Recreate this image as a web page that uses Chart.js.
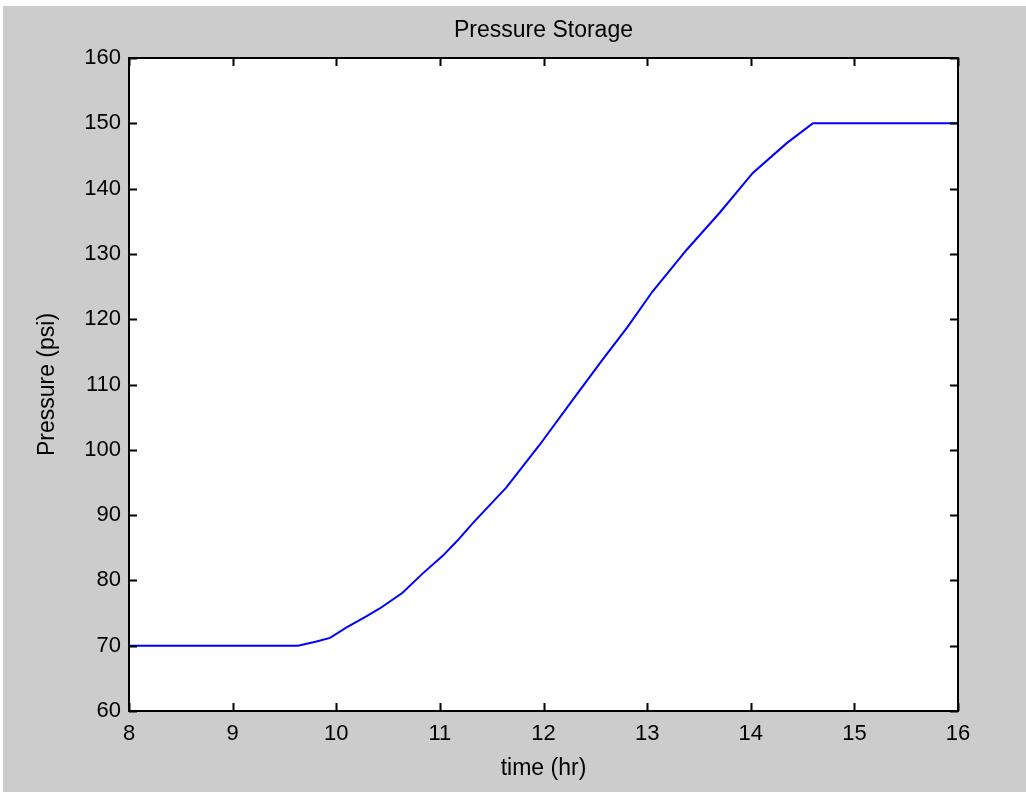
<!DOCTYPE html>
<html>
<head>
<meta charset="utf-8">
<title>Pressure Storage</title>
<script src="https://cdn.jsdelivr.net/npm/chart.js@4.4.1/dist/chart.umd.min.js"></script>
<style>
    html, body { margin: 0; padding: 0; background: #ffffff; }
    #figure {
        position: absolute;
        left: 3px;
        top: 6px;
        width: 1023px;
        height: 786px;
        background: #cccccc;
    }
</style>
</head>
<body>
<div id="figure"><canvas id="chartPressure"></canvas></div>
<script>
// Valores (tiempo en horas, presión en psi)
const timeHr = [8, 9.63, 9.8, 9.94, 10.1, 10.29, 10.42, 10.64, 10.83, 11.03, 11.17, 11.32,
    11.64, 11.96, 12.28, 12.57, 12.81, 13.05, 13.38, 13.7, 14.02, 14.35, 14.5, 14.6, 16];
const pressurePsi = [70, 70, 70.6, 71.2, 72.8, 74.5, 75.7, 78.1, 81.0, 83.8, 86.1, 88.8,
    94.2, 100.7, 107.6, 113.8, 118.8, 124.2, 130.6, 136.3, 142.4, 147.0, 148.8, 150, 150];

const xTicks = [8, 9, 10, 11, 12, 13, 14, 15, 16];
const yTicks = [60, 70, 80, 90, 100, 110, 120, 130, 140, 150, 160];

const chartTitle = "Pressure Storage";
const xLabel = "time (hr)";
const yLabel = "Pressure (psi)";

const FONT = "Arial, 'Liberation Sans', sans-serif";

// fondo blanco del área + caja estilo matlab con ticks hacia dentro
// el título va centrado sobre el área de datos (como en matlab), no sobre el canvas
const matlabBox = {
    id: "matlabBox",
    beforeDatasetsDraw(chart) {
        const { ctx, chartArea: a } = chart;
        ctx.save();
        ctx.fillStyle = "#ffffff";
        ctx.fillRect(a.left, a.top, a.right - a.left, a.bottom - a.top);
        ctx.restore();
    },
    afterDatasetsDraw(chart) {
        const { ctx, chartArea: a, scales } = chart;
        const tick = 8;
        ctx.save();
        ctx.strokeStyle = "#000000";
        ctx.lineWidth = 2;
        ctx.beginPath();
        ctx.rect(a.left, a.top, a.right - a.left, a.bottom - a.top);
        scales.x.ticks.forEach((t) => {
            const px = Math.round(scales.x.getPixelForValue(t.value)) + 0.5;
            ctx.moveTo(px, a.bottom);
            ctx.lineTo(px, a.bottom - tick);
            ctx.moveTo(px, a.top);
            ctx.lineTo(px, a.top + tick);
        });
        scales.y.ticks.forEach((t) => {
            const py = Math.round(scales.y.getPixelForValue(t.value)) + 0.5;
            ctx.moveTo(a.left, py);
            ctx.lineTo(a.left + tick, py);
            ctx.moveTo(a.right, py);
            ctx.lineTo(a.right - tick, py);
        });
        ctx.stroke();

        ctx.fillStyle = "#000000";
        ctx.font = "23px " + FONT;
        ctx.textAlign = "center";
        ctx.textBaseline = "middle";
        ctx.fillText(chartTitle, (a.left + a.right) / 2, 25);
        ctx.restore();
    },
};

const ctx = document.getElementById("chartPressure").getContext("2d");
new Chart(ctx, {
    type: "scatter",
    data: {
        datasets: [
            {
                label: "Pressure",
                data: timeHr.map((t, i) => ({ x: t, y: pressurePsi[i] })),
                showLine: true,
                borderColor: "#0000ff",
                borderWidth: 2,
                pointRadius: 0,
                tension: 0,
                fill: false,
            },
        ],
    },
    options: {
        responsive: true,
        maintainAspectRatio: false,
        animation: false,
        layout: { padding: { left: 0, right: 68, top: 52, bottom: 0 } },
        plugins: {
            legend: { display: false },
            tooltip: { enabled: false },
            title: { display: false },
        },
        scales: {
            x: {
                type: "linear",
                min: 8,
                max: 16,
                afterBuildTicks: (s) => { s.ticks = xTicks.map((v) => ({ value: v })); },
                afterFit: (s) => { s.height = 81; },
                ticks: {
                    color: "#000000",
                    font: { family: FONT, size: 22 },
                    padding: 10,
                    maxRotation: 0,
                },
                grid: { drawOnChartArea: false, drawTicks: false },
                border: { display: false },
                title: {
                    display: true,
                    text: xLabel,
                    color: "#000000",
                    font: { family: FONT, size: 23 },
                    padding: { top: 0, bottom: 10 },
                },
            },
            y: {
                type: "linear",
                min: 60,
                max: 160,
                afterBuildTicks: (s) => { s.ticks = yTicks.map((v) => ({ value: v })); },
                afterFit: (s) => { s.width = 126; },
                ticks: {
                    color: "#000000",
                    font: { family: FONT, size: 22 },
                    padding: 8,
                },
                grid: { drawOnChartArea: false, drawTicks: false },
                border: { display: false },
                title: {
                    display: true,
                    text: yLabel,
                    color: "#000000",
                    font: { family: FONT, size: 23 },
                    padding: { top: 31, bottom: 0 },
                },
            },
        },
    },
    plugins: [matlabBox],
});
</script>
</body>
</html>
